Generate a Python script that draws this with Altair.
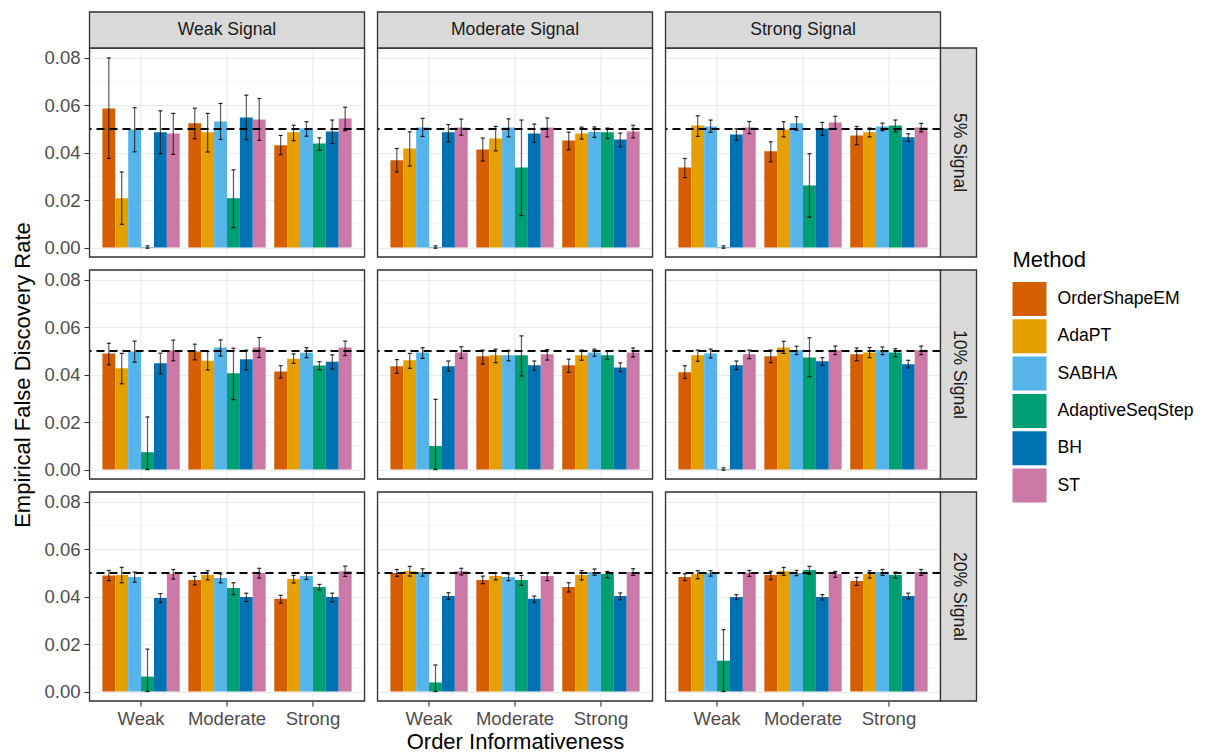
import altair as alt
import pandas as pd

methods = ["OrderShapeEM", "AdaPT", "SABHA", "AdaptiveSeqStep", "BH", "ST"]
colors = ["#D55E00", "#E69F00", "#56B4E9", "#009E73", "#0072B2", "#CC79A7"]
orders = ["Weak", "Moderate", "Strong"]
col_labels = ["Weak Signal", "Moderate Signal", "Strong Signal"]
row_labels = ["5% Signal", "10% Signal", "20% Signal"]
y_ticks = [0.0, 0.02, 0.04, 0.06, 0.08]
y_minor = [0.01, 0.03, 0.05, 0.07]
target_fdr = [0.05]

# Each list: 18 values = order (Weak, Moderate, Strong) x method (in `methods` order)
# ---- 5% Signal ----
fdr_weak_5 = [0.0587, 0.0208, 0.0498, 0.0002, 0.0486, 0.0481, 0.0524, 0.0486, 0.0532, 0.0208, 0.0549, 0.0540, 0.0432, 0.0486, 0.0502, 0.0439, 0.0490, 0.0545]
lo_weak_5 = [0.0376, 0.0098, 0.0404, -0.0003, 0.0396, 0.0393, 0.0459, 0.0403, 0.0456, 0.0084, 0.0455, 0.0452, 0.0392, 0.0451, 0.0470, 0.0410, 0.0439, 0.0493]
hi_weak_5 = [0.0800, 0.0319, 0.0590, 0.0007, 0.0577, 0.0566, 0.0588, 0.0566, 0.0608, 0.0328, 0.0643, 0.0629, 0.0473, 0.0516, 0.0531, 0.0463, 0.0538, 0.0592]

fdr_mod_5 = [0.0368, 0.0418, 0.0507, 0.0002, 0.0486, 0.0507, 0.0414, 0.0460, 0.0507, 0.0338, 0.0481, 0.0507, 0.0452, 0.0481, 0.0488, 0.0486, 0.0456, 0.0490]
lo_mod_5 = [0.0319, 0.0344, 0.0469, -0.0003, 0.0446, 0.0474, 0.0365, 0.0408, 0.0467, 0.0135, 0.0444, 0.0467, 0.0413, 0.0458, 0.0465, 0.0460, 0.0425, 0.0463]
hi_mod_5 = [0.0418, 0.0488, 0.0545, 0.0007, 0.0519, 0.0542, 0.0462, 0.0511, 0.0543, 0.0538, 0.0521, 0.0547, 0.0487, 0.0508, 0.0509, 0.0504, 0.0483, 0.0516]

fdr_str_5 = [0.0338, 0.0515, 0.0511, 0.0002, 0.0477, 0.0507, 0.0406, 0.0498, 0.0524, 0.0262, 0.0502, 0.0528, 0.0473, 0.0486, 0.0511, 0.0515, 0.0465, 0.0507]
lo_str_5 = [0.0295, 0.0469, 0.0486, -0.0003, 0.0453, 0.0481, 0.0362, 0.0467, 0.0495, 0.0128, 0.0473, 0.0501, 0.0434, 0.0467, 0.0493, 0.0488, 0.0448, 0.0488]
hi_str_5 = [0.0376, 0.0556, 0.0538, 0.0007, 0.0501, 0.0532, 0.0446, 0.0531, 0.0552, 0.0396, 0.0528, 0.0554, 0.0511, 0.0504, 0.0525, 0.0538, 0.0480, 0.0524]

# ---- 10% Signal ----
fdr_weak_10 = [0.0490, 0.0427, 0.0498, 0.0073, 0.0448, 0.0502, 0.0498, 0.0459, 0.0515, 0.0406, 0.0465, 0.0515, 0.0414, 0.0467, 0.0493, 0.0439, 0.0455, 0.0515]
lo_weak_10 = [0.0442, 0.0362, 0.0453, 0.0000, 0.0404, 0.0459, 0.0463, 0.0420, 0.0479, 0.0295, 0.0421, 0.0473, 0.0386, 0.0448, 0.0472, 0.0421, 0.0424, 0.0481]
hi_weak_10 = [0.0533, 0.0490, 0.0542, 0.0222, 0.0491, 0.0546, 0.0529, 0.0498, 0.0547, 0.0512, 0.0504, 0.0557, 0.0438, 0.0488, 0.0514, 0.0455, 0.0484, 0.0542]

fdr_mod_10 = [0.0436, 0.0461, 0.0494, 0.0099, 0.0436, 0.0494, 0.0478, 0.0482, 0.0482, 0.0482, 0.0440, 0.0486, 0.0440, 0.0482, 0.0494, 0.0482, 0.0431, 0.0494]
lo_mod_10 = [0.0406, 0.0427, 0.0469, 0.0000, 0.0415, 0.0469, 0.0445, 0.0451, 0.0459, 0.0395, 0.0419, 0.0462, 0.0410, 0.0461, 0.0478, 0.0465, 0.0413, 0.0475]
hi_mod_10 = [0.0464, 0.0490, 0.0514, 0.0296, 0.0458, 0.0518, 0.0504, 0.0508, 0.0503, 0.0564, 0.0458, 0.0506, 0.0466, 0.0504, 0.0508, 0.0499, 0.0450, 0.0513]

fdr_str_10 = [0.0410, 0.0482, 0.0490, 0.0002, 0.0440, 0.0486, 0.0478, 0.0515, 0.0503, 0.0473, 0.0457, 0.0503, 0.0486, 0.0494, 0.0503, 0.0494, 0.0444, 0.0503]
lo_str_10 = [0.0385, 0.0457, 0.0471, -0.0003, 0.0422, 0.0468, 0.0451, 0.0490, 0.0485, 0.0392, 0.0440, 0.0485, 0.0459, 0.0472, 0.0485, 0.0476, 0.0429, 0.0485]
hi_str_10 = [0.0438, 0.0504, 0.0508, 0.0007, 0.0458, 0.0504, 0.0504, 0.0541, 0.0520, 0.0556, 0.0472, 0.0521, 0.0513, 0.0515, 0.0517, 0.0510, 0.0461, 0.0521]

# ---- 20% Signal ----
fdr_weak_20 = [0.0490, 0.0492, 0.0483, 0.0063, 0.0395, 0.0496, 0.0471, 0.0492, 0.0479, 0.0437, 0.0399, 0.0500, 0.0391, 0.0475, 0.0487, 0.0441, 0.0399, 0.0508]
lo_weak_20 = [0.0468, 0.0459, 0.0461, 0.0000, 0.0375, 0.0475, 0.0450, 0.0471, 0.0459, 0.0409, 0.0380, 0.0479, 0.0373, 0.0458, 0.0473, 0.0429, 0.0378, 0.0486]
hi_weak_20 = [0.0511, 0.0524, 0.0504, 0.0179, 0.0413, 0.0515, 0.0486, 0.0510, 0.0496, 0.0459, 0.0415, 0.0520, 0.0406, 0.0490, 0.0500, 0.0452, 0.0415, 0.0529]

fdr_mod_20 = [0.0500, 0.0508, 0.0504, 0.0038, 0.0403, 0.0508, 0.0471, 0.0487, 0.0483, 0.0471, 0.0391, 0.0487, 0.0441, 0.0492, 0.0504, 0.0496, 0.0403, 0.0504]
lo_mod_20 = [0.0486, 0.0487, 0.0487, 0.0000, 0.0389, 0.0492, 0.0455, 0.0471, 0.0468, 0.0448, 0.0377, 0.0468, 0.0420, 0.0471, 0.0490, 0.0480, 0.0387, 0.0490]
hi_mod_20 = [0.0515, 0.0528, 0.0518, 0.0112, 0.0417, 0.0520, 0.0487, 0.0501, 0.0496, 0.0490, 0.0403, 0.0501, 0.0459, 0.0510, 0.0517, 0.0507, 0.0416, 0.0518]

fdr_str_20 = [0.0483, 0.0496, 0.0500, 0.0130, 0.0399, 0.0500, 0.0492, 0.0508, 0.0500, 0.0513, 0.0399, 0.0496, 0.0466, 0.0496, 0.0504, 0.0492, 0.0403, 0.0504]
lo_str_20 = [0.0468, 0.0476, 0.0487, 0.0000, 0.0388, 0.0486, 0.0472, 0.0490, 0.0489, 0.0494, 0.0387, 0.0482, 0.0448, 0.0479, 0.0490, 0.0479, 0.0391, 0.0490]
hi_str_20 = [0.0497, 0.0510, 0.0510, 0.0261, 0.0409, 0.0511, 0.0507, 0.0524, 0.0511, 0.0528, 0.0409, 0.0507, 0.0482, 0.0510, 0.0515, 0.0504, 0.0415, 0.0515]

panels = [
    [(fdr_weak_5, lo_weak_5, hi_weak_5), (fdr_mod_5, lo_mod_5, hi_mod_5), (fdr_str_5, lo_str_5, hi_str_5)],
    [(fdr_weak_10, lo_weak_10, hi_weak_10), (fdr_mod_10, lo_mod_10, hi_mod_10), (fdr_str_10, lo_str_10, hi_str_10)],
    [(fdr_weak_20, lo_weak_20, hi_weak_20), (fdr_mod_20, lo_mod_20, hi_mod_20), (fdr_str_20, lo_str_20, hi_str_20)],
]

W, H = 275, 209
STRIP = 36
FONT = "Liberation Sans"
GRID = "#EBEBEB"
BORDER = "#333333"
AXFS = 18.5

yscale = alt.Scale(domain=[-0.004, 0.0842], nice=False, zero=False)
xscale = alt.Scale(domain=orders, paddingInner=0.1, paddingOuter=0.15)
oscale = alt.Scale(domain=methods, paddingInner=0, paddingOuter=0)
cscale = alt.Scale(domain=methods, range=colors)

legend = alt.Legend(
    title="Method", orient="none", legendX=923, legendY=202,
    symbolType="square", symbolSize=1156, symbolStrokeWidth=0, symbolOpacity=1,
    labelFontSize=17.6, labelColor="black", labelFont=FONT, labelOffset=11,
    titleFontSize=22, titleFontWeight="normal", titleColor="black", titleFont=FONT,
    titlePadding=10, rowPadding=3.3,
)


def make_panel(ri, ci):
    fdr, lo, hi = panels[ri][ci]
    df = pd.DataFrame({
        "order": [o for o in orders for _ in methods],
        "method": methods * len(orders),
        "fdr": fdr, "lo": lo, "hi": hi,
    })
    left = ci == 0
    bottom = ri == 2
    if left:
        yaxis = alt.Axis(values=y_ticks, format=".2f", grid=True, gridColor=GRID, gridWidth=1.2,
                         domain=False, ticks=True, tickColor=BORDER, tickSize=5.5, tickWidth=1.1,
                         labelFontSize=AXFS, labelColor="#4D4D4D", labelPadding=4, labelFont=FONT,
                         title="Empirical False Discovery Rate" if ri == 1 else None,
                         titleFontSize=22, titleFontWeight="normal", titleColor="black",
                         titleFont=FONT, titlePadding=9.5)
    else:
        yaxis = alt.Axis(values=y_ticks, grid=True, gridColor=GRID, gridWidth=1.2, domain=False,
                         ticks=False, labels=False, title=None)
    if bottom:
        xaxis = alt.Axis(grid=True, gridColor=GRID, gridWidth=1.2, domain=False, ticks=True,
                         tickColor=BORDER, tickSize=5, tickWidth=1.1, labelAngle=0,
                         labelFontSize=AXFS, labelColor="#4D4D4D", labelPadding=3, labelFont=FONT,
                         title="Order Informativeness" if ci == 1 else None,
                         titleFontSize=22, titleFontWeight="normal", titleColor="black",
                         titleFont=FONT, titlePadding=4)
    else:
        xaxis = alt.Axis(grid=True, gridColor=GRID, gridWidth=1.2, domain=False, ticks=False,
                         labels=False, title=None)

    x = alt.X("order:N", sort=orders, scale=xscale, axis=xaxis)
    xo = alt.XOffset("method:N", sort=methods, scale=oscale)

    minor = alt.Chart(pd.DataFrame({"v": y_minor})).mark_rule(color=GRID, strokeWidth=0.6).encode(
        y=alt.Y("v:Q", scale=yscale, axis=yaxis))
    base = alt.Chart(df)
    bars = base.mark_bar().encode(
        x=x, xOffset=xo,
        y=alt.Y("fdr:Q", scale=yscale, axis=yaxis), y2=alt.datum(0),
        color=alt.Color("method:N", sort=methods, scale=cscale, legend=legend),
    )
    err = base.mark_rule(color="black", opacity=0.65, strokeWidth=1.2).encode(
        x=x, xOffset=xo, y="lo:Q", y2="hi:Q")
    cap_lo = base.mark_tick(color="black", opacity=0.85, thickness=1.2, size=4).encode(
        x=x, xOffset=xo, y="lo:Q")
    cap_hi = base.mark_tick(color="black", opacity=0.85, thickness=1.2, size=4).encode(
        x=x, xOffset=xo, y="hi:Q")
    hline = alt.Chart(pd.DataFrame({"v": target_fdr})).mark_rule(
        color="black", strokeDash=[8, 5], strokeWidth=2).encode(y=alt.Y("v:Q", scale=yscale))

    one = pd.DataFrame({"label": [""]})
    frame = alt.Chart(one).mark_rect(fill="white", fillOpacity=0, stroke=BORDER, strokeWidth=1.3).encode(
        x=alt.value(0), x2=alt.value(W), y=alt.value(0), y2=alt.value(H))

    layers = [minor, bars, err, cap_lo, cap_hi, hline, frame]

    if ri == 0:
        sdf = pd.DataFrame({"label": [col_labels[ci]]})
        layers.append(alt.Chart(sdf).mark_rect(fill="#D9D9D9", stroke=BORDER, strokeWidth=1.3).encode(
            x=alt.value(0), x2=alt.value(W), y=alt.value(-STRIP), y2=alt.value(0)))
        layers.append(alt.Chart(sdf).mark_text(fontSize=17.6, color="#1A1A1A", font=FONT,
                                               baseline="middle", align="center").encode(
            text="label:N", x=alt.value(W / 2), y=alt.value(-STRIP / 2)))
    if ci == 2:
        sdf = pd.DataFrame({"label": [row_labels[ri]]})
        layers.append(alt.Chart(sdf).mark_rect(fill="#D9D9D9", stroke=BORDER, strokeWidth=1.3).encode(
            x=alt.value(W), x2=alt.value(W + STRIP), y=alt.value(0), y2=alt.value(H)))
        layers.append(alt.Chart(sdf).mark_text(fontSize=17.6, color="#1A1A1A", font=FONT, angle=90,
                                               baseline="middle", align="center").encode(
            text="label:N", x=alt.value(W + STRIP / 2), y=alt.value(H / 2)))

    return alt.layer(*layers).properties(width=W, height=H)


charts = [make_panel(r, c) for r in range(3) for c in range(3)]

chart = alt.concat(*charts, columns=3, spacing=13, bounds="flush").resolve_scale(
    color="shared").resolve_legend(color="shared").properties(
    padding={"left": 2.5, "top": 2, "right": 5, "bottom": 0}
).configure_view(strokeWidth=0).configure(font=FONT, background="white")

chart.save("out.html", embed_options={"renderer": "svg", "actions": False})
